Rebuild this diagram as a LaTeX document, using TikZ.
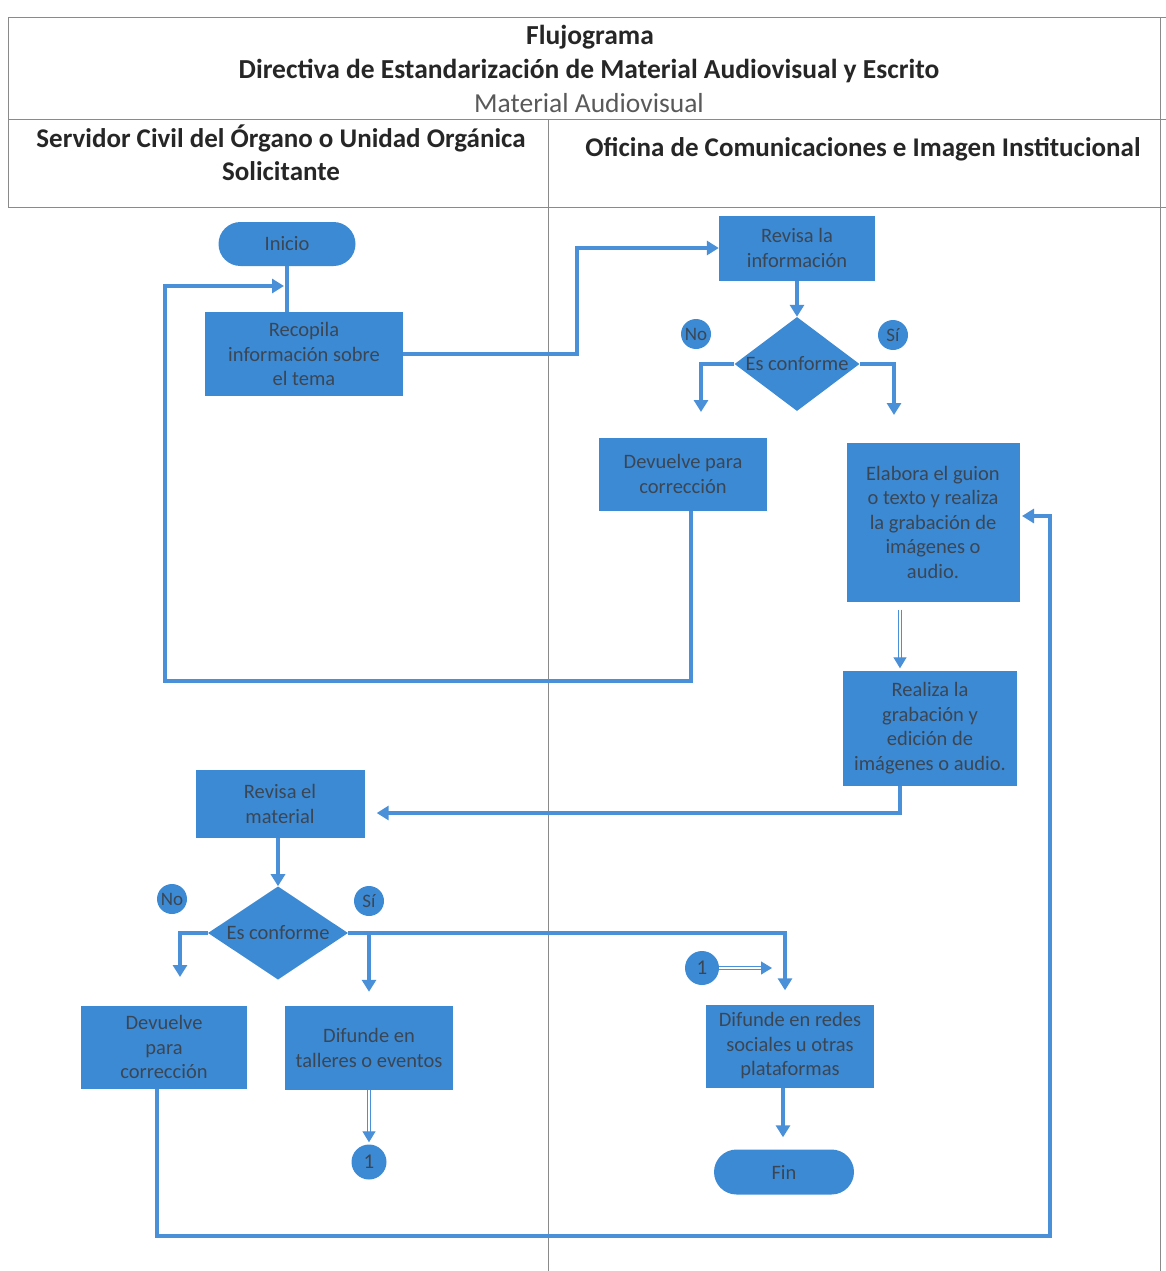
\documentclass[tikz,border=0pt]{standalone}
\usepackage{fontspec}
\setmainfont{Carlito}
\usetikzlibrary{shapes.geometric,shapes.misc,arrows.meta}
\definecolor{nb}{HTML}{3D8AD4}
\definecolor{lb}{HTML}{4A90D9}
\definecolor{nt}{HTML}{3A4654}
\definecolor{gl}{HTML}{8A8A8A}
\begin{document}
\begin{tikzpicture}[x=1pt,y=-1pt,
 box/.style={rectangle,fill=nb,text=nt,align=center,inner sep=0pt,font=\fontsize{20.5}{24.5}\selectfont},
 term/.style={rounded rectangle,fill=nb,text=nt,inner sep=0pt,minimum height=44pt,font=\fontsize{20.5}{24}\selectfont},
 dec/.style={diamond,fill=nb,text=nt,inner sep=-6pt,minimum width=125pt,minimum height=94pt,font=\fontsize{20.5}{24}\selectfont},
 lbl/.style={circle,fill=nb,text=nt,inner sep=0pt,minimum size=30pt,font=\fontsize{19}{20}\selectfont},
 conn/.style={draw=lb,line width=3.4pt},
 arr/.style={conn,-{Triangle[length=12pt,width=14pt]}},
 dbl/.style={draw=lb,line width=1.3pt,double=white,double distance=2pt,-{Triangle[length=11pt,width=13pt]}},
 frame/.style={draw=gl,line width=1pt},
 ttl/.style={font=\bfseries\fontsize{27.5}{30}\selectfont,text=black!85},
 hdr/.style={font=\bfseries\fontsize{27}{33}\selectfont,text=black!85,align=center}]
\useasboundingbox (0,0) rectangle (1166,1271);
% frame
\draw[frame] (8,18) -- (1166,18);
\draw[frame] (8,120) -- (1166,120);
\draw[frame] (8,207) -- (1166,207);
\draw[frame] (8,18) -- (8,207);
\draw[frame] (1160,18) -- (1160,1271);
\draw[frame] (548,120) -- (548,1271);
% titles
\node[ttl] (t1) at (590,37) {Flujograma};
\node[ttl] (t2) at (589,71) {Directiva de Estandarización de Material Audiovisual y Escrito};
\node[font=\fontsize{27.5}{30}\selectfont,text=black!65] (t3) at (589,103) {Material Audiovisual};
\node[hdr] (h1) at (281,153) {Servidor Civil del Órgano o Unidad Orgánica\\Solicitante};
\node[hdr] (h2) at (863,149) {Oficina de Comunicaciones e Imagen Institucional};
% nodes
\node[term,minimum width=137pt] (inicio) at (287,244) {Inicio};
\node[box,minimum width=198pt,minimum height=84pt] (rec) at (304,354) {Recopila\\información sobre\\el tema};
\node[box,minimum width=156pt,minimum height=65pt] (rev1) at (797,248) {Revisa la\\información};
\node[dec] (d1) at (797,364) {Es conforme};
\node[lbl] (no1) at (696,334) {No};
\node[lbl] (si1) at (893,335) {Sí};
\node[box,minimum width=168pt,minimum height=73pt] (dev1) at (683,474) {Devuelve para\\corrección};
\node[box,minimum width=173pt,minimum height=159pt] (ela) at (933,522) {Elabora el guion\\o texto y realiza\\la grabación de\\imágenes o\\audio.};
\node[box,minimum width=174pt,minimum height=115pt] (rea) at (930,728) {Realiza la\\grabación y\\edición de\\imágenes o audio.};
\node[box,minimum width=169pt,minimum height=68pt] (rev2) at (280,804) {Revisa el\\material};
\node[dec,minimum width=140pt,minimum height=93pt] (d2) at (278,933) {Es conforme};
\node[lbl] (no2) at (172,899) {No};
\node[lbl] (si2) at (369,901) {Sí};
\node[box,minimum width=166pt,minimum height=83pt] (dev2) at (164,1047) {Devuelve\\para\\corrección};
\node[box,minimum width=168pt,minimum height=84pt] (tal) at (369,1048) {Difunde en\\talleres o eventos};
\node[lbl,minimum size=35pt,font=\fontsize{21}{22}\selectfont] (one1) at (369,1162) {1};
\node[lbl,minimum size=34pt,font=\fontsize{21}{22}\selectfont] (one2) at (702,968) {1};
\node[box,minimum width=168pt,minimum height=83pt] (red) at (790,1046) {Difunde en redes\\sociales u otras\\plataformas};
\node[term,minimum width=140pt,minimum height=45pt] (fin) at (784,1172) {Fin};
% free ends
\coordinate (loopin) at (284,286);
\coordinate (no1end) at (701,412);
\coordinate (si1end) at (894,415);
\coordinate (no2end) at (180,977);
\coordinate (oneend) at (772,968);
\coordinate (elain) at (1022,516);
% connectors
\draw[conn] (inicio.south) -- (inicio.south |- rec.north);
\draw[arr] ([xshift=8pt]dev1.south) |- (165,681) |- (loopin);
\draw[arr] (rec.east) -| (577,300) |- (rev1.west);
\draw[arr] (rev1.south) -- (d1.north);
\draw[arr] (d1.west) -| (no1end);
\draw[arr] (d1.east) -| (si1end);
\draw[dbl,shorten <=8pt,shorten >=2pt] ([xshift=-33pt]ela.south) -- ([xshift=-30pt]rea.north);
\draw[arr] ([xshift=-30pt]rea.south) |- ([xshift=12pt,yshift=-9pt]rev2.east);
\draw[arr] (rev2.south -| d2.north) -- (d2.north);
\draw[arr] (d2.west) -| (no2end);
\draw[arr,shorten >=14pt] (d2.east) -| ([xshift=-5pt]red.north);
\draw[arr,shorten >=14pt] (d2.east -| tal.north) -- (tal.north);
\draw[dbl,shorten >=2pt] (tal.south) -- (one1.north);
\draw[dbl] (one2.east) -- (oneend);
\draw[arr,shorten >=12pt] ([xshift=-7pt]red.south) -- ([xshift=-1pt]fin.north);
\draw[arr] ([xshift=-7pt]dev2.south) |- (1050,1236) |- (elain);
\end{tikzpicture}
\end{document}
